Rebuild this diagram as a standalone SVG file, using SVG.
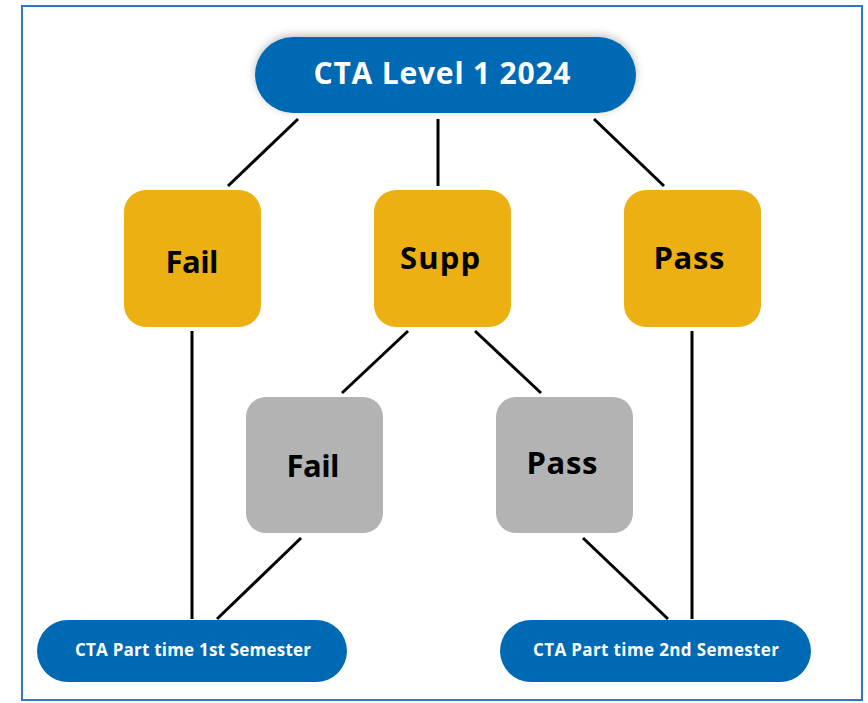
<svg xmlns="http://www.w3.org/2000/svg" width="868" height="703" viewBox="0 0 868 703">
<style>
.pill{fill:#0069B4}
.yel{fill:#EDB012}
.gry{fill:#B3B3B3}
.lbl{font-family:"Open Sans","Liberation Sans",sans-serif;font-weight:700;fill:#000;text-anchor:middle}
.wt{font-family:"Open Sans","Liberation Sans",sans-serif;font-weight:700;fill:#fff;text-anchor:middle}
#connectors line{stroke:#000;stroke-width:3}
</style>
<defs>
<filter id="sh" x="-20%" y="-40%" width="140%" height="180%">
<feDropShadow dx="0" dy="-2" stdDeviation="4" flood-color="#000" flood-opacity="0.25"/>
</filter>
</defs>
<rect x="0" y="0" width="868" height="703" fill="#fff"/>
<rect x="22" y="6" width="840" height="694" fill="none" stroke="#2F77C4" stroke-width="2"/>
<g id="connectors">
<line x1="298" y1="119" x2="228" y2="186"/>
<line x1="438" y1="119" x2="438" y2="186"/>
<line x1="594" y1="119" x2="664" y2="186"/>
<line x1="192" y1="331" x2="192" y2="619"/>
<line x1="408" y1="331" x2="342" y2="393"/>
<line x1="475" y1="331" x2="541" y2="393"/>
<line x1="301" y1="538" x2="217" y2="619"/>
<line x1="583" y1="538" x2="668" y2="619"/>
<line x1="692" y1="331" x2="692" y2="619"/>
</g>
<g id="top">
<rect class="pill" x="255" y="37" width="381" height="76" rx="38" filter="url(#sh)"/>
<text class="wt" x="442" y="84" font-size="30" textLength="257">CTA Level 1 2024</text>
</g>
<g id="fail1">
<rect class="yel" x="124" y="190" width="137" height="137" rx="22"/>
<text class="lbl" x="192" y="273" font-size="31" textLength="53">Fail</text>
</g>
<g id="supp">
<rect class="yel" x="374" y="190" width="137" height="137" rx="22"/>
<text class="lbl" x="440" y="269" font-size="31" textLength="80">Supp</text>
</g>
<g id="pass1">
<rect class="yel" x="624" y="190" width="137" height="137" rx="22"/>
<text class="lbl" x="689" y="269" font-size="31" textLength="71">Pass</text>
</g>
<g id="fail2">
<rect class="gry" x="246" y="397" width="137" height="136" rx="20"/>
<text class="lbl" x="313" y="477" font-size="31" textLength="53">Fail</text>
</g>
<g id="pass2">
<rect class="gry" x="496" y="397" width="137" height="136" rx="20"/>
<text class="lbl" x="562" y="474" font-size="31" textLength="71">Pass</text>
</g>
<g id="sem1">
<rect class="pill" x="37" y="620" width="310" height="62" rx="31"/>
<text class="wt" x="193" y="656" font-size="17" textLength="236">CTA Part time 1st Semester</text>
</g>
<g id="sem2">
<rect class="pill" x="500" y="620" width="311" height="62" rx="31"/>
<text class="wt" x="656" y="656" font-size="17" textLength="246">CTA Part time 2nd Semester</text>
</g>
</svg>
